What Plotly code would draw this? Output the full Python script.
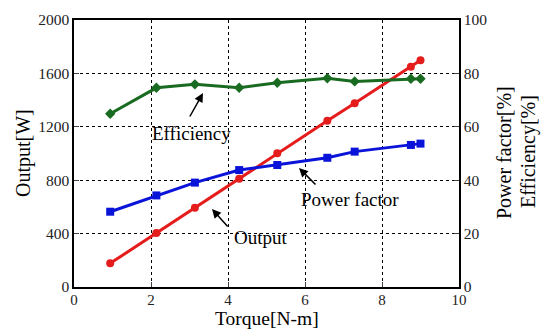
import plotly.graph_objects as go

# Motor characteristics versus torque
torque = [0.94, 2.14, 3.14, 4.29, 5.28, 6.58, 7.29, 8.75, 9.0]
output_w = [177, 405, 594, 811, 1001, 1245, 1376, 1650, 1698]
power_factor = [28.2, 34.3, 39.1, 43.8, 45.7, 48.4, 50.7, 53.2, 53.7]
efficiency = [64.9, 74.6, 75.9, 74.6, 76.5, 78.2, 77.0, 78.0, 78.0]

x_ticks = [0, 2, 4, 6, 8, 10]
y_ticks = [0, 400, 800, 1200, 1600, 2000]
y2_ticks = [0, 20, 40, 60, 80, 100]

FONT = "Liberation Serif"
W, H = 545, 330
L, R, T, B = 74, 86, 20, 43

fig = go.Figure()
fig.add_trace(go.Scatter(x=torque, y=efficiency, yaxis="y2", mode="lines+markers",
                         line=dict(color="#1a6b22", width=3),
                         marker=dict(symbol="diamond", size=8, color="#1a6b22")))
fig.add_trace(go.Scatter(x=torque, y=power_factor, yaxis="y2", mode="lines+markers",
                         line=dict(color="#0a14d8", width=3),
                         marker=dict(symbol="square", size=8, color="#0a14d8")))
fig.add_trace(go.Scatter(x=torque, y=output_w, mode="lines+markers",
                         line=dict(color="#e51c1c", width=3),
                         marker=dict(symbol="circle", size=8, color="#e51c1c")))

grid = dict(showgrid=True, gridcolor="black", gridwidth=1, griddash="dot")
tickfont = dict(family=FONT, size=15.5, color="#222")
xtickfont = dict(family=FONT, size=15, color="#222")

fig.update_layout(
    width=W, height=H, margin=dict(l=L, r=R, t=T, b=B),
    paper_bgcolor="white", plot_bgcolor="white", showlegend=False,
    font=dict(family=FONT, color="black"),
    xaxis=dict(range=[0, 10], tickvals=x_ticks, tickfont=xtickfont, **grid,
               showline=True, linecolor="black", linewidth=1.5, mirror=True,
               ticks="inside", ticklen=5, zeroline=False, ticklabelstandoff=-2),
    yaxis=dict(range=[0, 2000], tickvals=y_ticks, tickfont=tickfont, **grid,
               showline=True, linecolor="black", linewidth=1.5, mirror=True,
               ticks="inside", ticklen=5, zeroline=False),
    yaxis2=dict(range=[0, 100], tickvals=y2_ticks, tickfont=tickfont,
                overlaying="y", side="right", showgrid=False, zeroline=False,
                ticks="inside", ticklen=5, showline=True, linecolor="black",
                linewidth=1.5),
)

pw, ph = W - L - R, H - T - B


def px(xp):
    return (xp - L) / pw


def py(yp):
    return (H - B - yp) / ph


title_font = dict(family=FONT, size=20, color="black")
label_font = dict(family=FONT, size=19, color="black")
ann = [
    dict(text="Output[W]", x=px(23), y=py(153), textangle=-90, font=title_font),
    dict(text="Torque[N-m]", x=px(267), y=py(330), yanchor="bottom",
         font=dict(family=FONT, size=19.5, color="black")),
    dict(text="Power factor[%]", x=px(504), y=py(153), textangle=-90, font=title_font),
    dict(text="Efficiency[%]", x=px(528), y=py(152), textangle=-90, font=title_font),
    dict(text="Efficiency", x=px(191), y=py(133), font=label_font),
    dict(text="Output", x=px(261), y=py(237), font=label_font),
    dict(text="Power factor", x=px(350), y=py(199), font=label_font),
]
for a in ann:
    a.setdefault("yanchor", "middle")
    fig.add_annotation(xref="paper", yref="paper", showarrow=False,
                       xanchor="center", borderpad=0, **a)

# Pointer arrows for the curve labels (head, tail)
arrows = [((203, 93), (189, 118)), ((212, 209), (229, 228)), ((299, 168), (317, 186))]
for (hx, hy), (tx, ty) in arrows:
    fig.add_annotation(xref="paper", yref="paper", x=px(hx), y=py(hy),
                       axref="pixel", ayref="pixel", ax=tx - hx, ay=ty - hy,
                       text="", showarrow=True, arrowhead=2, arrowsize=1.2,
                       arrowwidth=1.5, arrowcolor="black")

fig.write_html("out.html")
